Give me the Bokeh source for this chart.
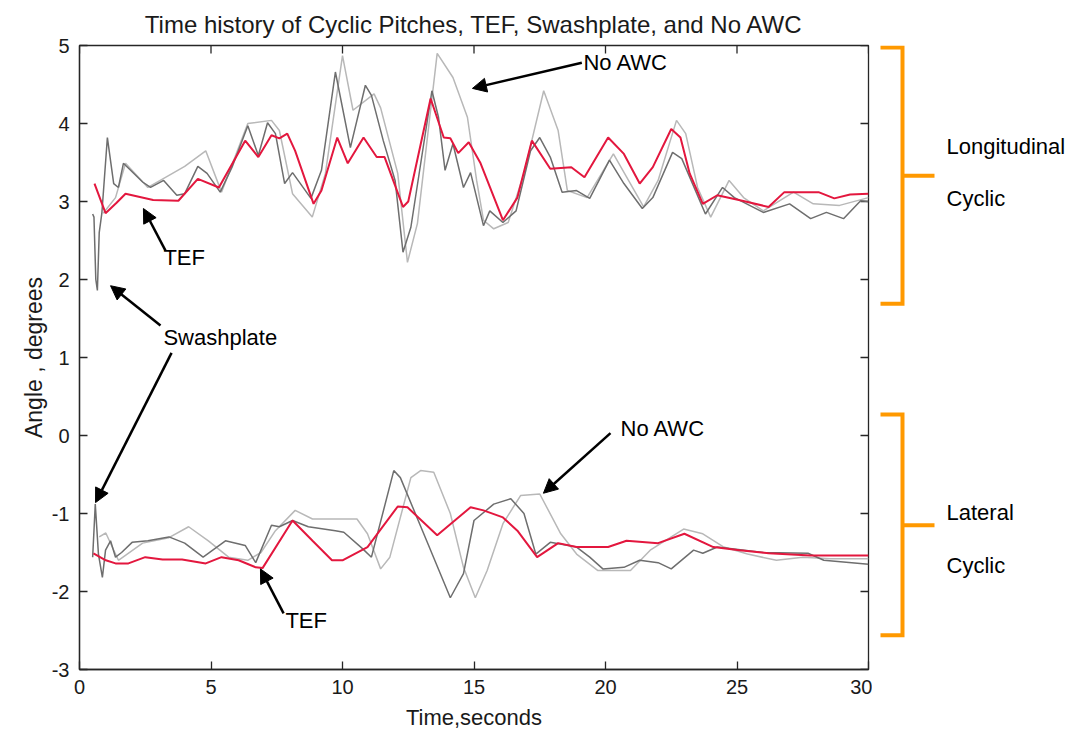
from bokeh.plotting import figure
from bokeh.models import Range1d, FixedTicker, Arrow, NormalHead, Label
from bokeh.layouts import row
from bokeh.embed import file_html
from bokeh.resources import INLINE

# ---------------- data ----------------
title_text = "Time history of Cyclic Pitches, TEF, Swashplate, and No AWC"
x_ticks = [0, 5, 10, 15, 20, 25, 30]
y_ticks = [-3, -2, -1, 0, 1, 2, 3, 4, 5]

# Longitudinal cyclic
tef_lon_t = [0.57, 0.99, 1.4, 1.75, 2.8, 3.76, 4.5, 5.3, 6.3, 6.8, 7.3, 7.6, 7.9, 8.2, 8.9, 9.2,
             9.8, 10.2, 10.8, 11.3, 11.6, 12.3, 12.5, 13.35, 13.85, 14.1, 14.4, 14.8, 15.25, 16.1,
             16.65, 17.2, 17.9, 18.7, 19.2, 20.1, 20.7, 21.3, 21.8, 22.5, 22.85, 23.2, 23.7, 24.25,
             25.2, 26.2, 26.8, 28.1, 28.7, 29.3, 30.0]
tef_lon_y = [3.23, 2.85, 2.98, 3.10, 3.02, 3.01, 3.29, 3.18, 3.78, 3.57, 3.85, 3.81, 3.87, 3.65, 2.97, 3.14,
             3.82, 3.49, 3.82, 3.57, 3.57, 2.93, 3.00, 4.32, 3.82, 3.81, 3.62, 3.76, 3.49, 2.76,
             3.05, 3.78, 3.42, 3.44, 3.31, 3.82, 3.61, 3.23, 3.44, 3.93, 3.82, 3.36, 2.97, 3.08,
             3.01, 2.93, 3.12, 3.12, 3.04, 3.09, 3.10]

swash_lon_t = [0.5, 0.55, 0.62, 0.68, 0.75, 0.85, 1.06, 1.3, 1.48, 1.67, 2.4, 2.7, 3.2, 3.7, 4.0, 4.5,
               4.85, 5.35, 5.8, 6.4, 6.8, 7.15, 7.45, 7.8, 8.1, 8.8, 9.2, 9.73, 10.3, 10.87, 11.1,
               11.55, 12.0, 12.3, 12.6, 13.4, 13.65, 13.9, 14.2, 14.6, 14.87, 15.36, 15.6, 16.1, 16.6,
               17.15, 17.5, 17.9, 18.35, 18.9, 19.4, 20.15, 20.7, 21.4, 21.8, 22.55, 22.9, 23.8,
               24.45, 24.9, 26.0, 27.0, 27.8, 28.4, 29.05, 29.7, 30.0]
swash_lon_y = [2.84, 2.8, 2.0, 1.86, 2.6, 2.85, 3.82, 3.23, 3.18, 3.49, 3.25, 3.18, 3.27, 3.08, 3.10, 3.45,
               3.36, 3.12, 3.44, 3.97, 3.59, 4.01, 3.87, 3.23, 3.37, 3.04, 3.40, 4.66, 3.69, 4.49, 4.36,
               3.78, 3.27, 2.35, 2.67, 4.42, 4.08, 3.40, 3.74, 3.18, 3.37, 2.69, 2.88, 2.73, 2.88,
               3.65, 3.82, 3.57, 3.12, 3.14, 3.04, 3.53, 3.23, 2.91, 3.05, 3.63, 3.55, 2.84,
               3.18, 3.05, 2.86, 2.97, 2.78, 2.86, 2.78, 3.01, 3.00]

noawc_lon_t = [0.9, 1.37, 1.75, 2.6, 3.27, 4.0, 4.8, 5.4, 6.4, 7.3, 7.6, 8.1, 8.85, 9.35, 10.0, 10.4,
               11.2, 11.45, 12.1, 12.47, 12.85, 13.6, 14.2, 14.75, 15.1, 15.36, 15.75, 16.3, 16.9,
               17.65, 18.2, 18.55, 19.3, 20.3, 21.45, 22.0, 22.7, 23.05, 23.5, 24.0, 24.7, 25.25,
               26.0, 27.15, 27.9, 28.9, 30.0]
noawc_lon_y = [2.85, 3.05, 3.49, 3.18, 3.31, 3.45, 3.65, 3.12, 4.00, 4.04, 3.91, 3.10, 2.80, 3.36, 4.87, 4.17,
               4.38, 4.20, 3.36, 2.22, 2.72, 4.90, 4.59, 4.08, 3.27, 2.76, 2.65, 2.73, 3.36,
               4.42, 3.91, 3.14, 3.05, 3.61, 2.93, 3.27, 4.04, 3.87, 3.18, 2.80, 3.27, 3.05,
               2.88, 3.12, 2.97, 2.95, 3.05]

# Lateral cyclic
tef_lat_t = [0.53, 1.0, 1.37, 1.86, 2.5, 3.16, 3.9, 4.8, 5.4, 6.05, 6.7, 6.96, 8.1, 8.86, 9.6, 10.0,
             10.95, 12.1, 12.47, 13.6, 14.87, 15.36, 16.1, 16.65, 17.4, 18.2, 18.9, 20.1, 20.8, 22.0,
             23.0, 24.1, 25.1, 26.2, 27.8, 30.0]
tef_lat_y = [-1.51, -1.60, -1.64, -1.64, -1.56, -1.59, -1.59, -1.64, -1.56, -1.60, -1.69, -1.70, -1.09, -1.35,
             -1.60, -1.60, -1.43, -0.91, -0.92, -1.28, -0.92, -0.96, -1.05, -1.22, -1.56, -1.38, -1.43,
             -1.43, -1.35, -1.38, -1.26, -1.43, -1.47, -1.51, -1.54, -1.54]

swash_lat_t = [0.5, 0.6, 0.72, 0.87, 0.99, 1.18, 1.37, 1.6, 2.0, 2.6, 3.4, 4.0, 4.7, 5.55, 6.3, 6.7,
               7.3, 7.6, 8.1, 8.7, 9.73, 10.05, 10.76, 11.1, 11.95, 12.2, 13.2, 14.1, 14.6, 15.0,
               15.75, 16.4, 16.9, 17.35, 17.9, 18.9, 19.4, 19.9, 20.7, 21.3, 22.0, 22.5, 23.35, 23.7,
               24.25, 26.0, 27.7, 28.3, 30.0]
swash_lat_y = [-1.56, -0.88, -1.52, -1.82, -1.47, -1.35, -1.56, -1.50, -1.37, -1.35, -1.30, -1.38, -1.56,
               -1.35, -1.41, -1.63, -1.15, -1.17, -1.09, -1.17, -1.22, -1.24, -1.45, -1.56, -0.45,
               -0.54, -1.35, -2.08, -1.77, -1.09, -0.88, -0.81, -1.00, -1.52, -1.37, -1.43, -1.56,
               -1.71, -1.69, -1.60, -1.63, -1.71, -1.47, -1.51, -1.43, -1.50, -1.51, -1.60, -1.65]

noawc_lat_t = [0.75, 1.0, 1.48, 2.4, 3.4, 4.15, 4.9, 5.67, 6.4, 6.9, 7.45, 8.2, 8.86, 10.55, 10.95,
               11.45, 11.8, 12.6, 12.97, 13.47, 14.1, 14.6, 15.05, 15.5, 16.1, 16.77, 17.5, 18.3,
               18.9, 19.7, 20.95, 21.7, 22.97, 23.7, 24.5, 25.4, 26.5, 27.5, 28.55, 30.0]
noawc_lat_y = [-1.30, -1.25, -1.60, -1.38, -1.31, -1.17, -1.35, -1.56, -1.60, -1.50, -1.22, -0.96, -1.07,
               -1.07, -1.26, -1.71, -1.56, -0.54, -0.45, -0.47, -1.00, -1.69, -2.08, -1.73, -1.13,
               -0.77, -0.75, -1.26, -1.52, -1.73, -1.73, -1.47, -1.20, -1.26, -1.43, -1.52, -1.60,
               -1.56, -1.58, -1.58]

# annotation texts (data coords of left/middle) and arrows (start -> end)
note_texts = ["No AWC", "TEF", "Swashplate", "No AWC", "TEF"]
note_x = [19.16, 3.19, 3.19, 20.57, 7.83]
note_y = [4.78, 2.28, 1.26, 0.09, -2.37]
arrow_x0 = [19.1, 3.27, 3.08, 3.5, 20.19, 7.76]
arrow_y0 = [4.78, 2.37, 1.41, 1.06, 0.03, -2.28]
arrow_x1 = [14.94, 2.43, 1.18, 0.61, 17.64, 6.88]
arrow_y1 = [4.45, 2.91, 1.92, -0.86, -0.74, -1.71]

# brackets: (top, bottom, middle) in angle units, and their labels
bracket_groups = [(4.975, 1.69, 3.33), (0.27, -2.56, -1.15)]
group_labels = [("Longitudinal", 3.71), ("Cyclic", 3.04), ("Lateral", -0.99), ("Cyclic", -1.67)]

# ---------------- styling ----------------
FONT = "Liberation Sans"
AX = "#262626"
TXT = "#1a1a1a"
RED = "#E3173E"
DARK = "#6E6E6E"
LIGHT = "#B8B8B8"
ORANGE = "#FF9900"
TICK_PX = 8
FW, FH = 789, 624

p = figure(frame_width=FW, frame_height=FH, x_range=Range1d(0, 30), y_range=Range1d(-3, 5),
           min_border_left=79, min_border_right=4, min_border_top=45, min_border_bottom=67,
           output_backend="svg", toolbar_location=None,
           background_fill_color="white", border_fill_color="white")
p.title.text = title_text
p.title.align = "center"
p.title.text_font = FONT
p.title.text_font_size = "24px"
p.title.text_font_style = "normal"
p.title.text_color = TXT
p.title.standoff = 15
p.grid.visible = False
p.outline_line_color = AX
p.outline_line_width = 1.3

for ax in (p.xaxis[0], p.yaxis[0]):
    ax.major_tick_in = TICK_PX
    ax.major_tick_out = 0
    ax.minor_tick_line_color = None
    ax.axis_line_color = AX
    ax.axis_line_width = 1.3
    ax.major_tick_line_color = AX
    ax.major_tick_line_width = 1.3
    ax.major_label_text_font = FONT
    ax.major_label_text_font_size = "20px"
    ax.major_label_text_color = TXT
    ax.axis_label_text_font = FONT
    ax.axis_label_text_font_size = "22px"
    ax.axis_label_text_font_style = "normal"
    ax.axis_label_text_color = TXT

p.xaxis.ticker = FixedTicker(ticks=x_ticks)
p.yaxis.ticker = FixedTicker(ticks=y_ticks)
p.yaxis.major_label_overrides = {t: str(t) for t in y_ticks}
p.xaxis.major_label_overrides = {t: str(t) for t in x_ticks}
p.xaxis.axis_label = "Time,seconds"
p.yaxis.axis_label = "Angle , degrees"
p.yaxis.axis_label_text_font_size = "23px"
p.xaxis.major_label_standoff = 10
p.yaxis.major_label_standoff = 10
p.xaxis.axis_label_standoff = 8
p.yaxis.axis_label_standoff = 2

# inward ticks on top and right edges (box style)
dx = TICK_PX * 30.0 / FW
dy = TICK_PX * 8.0 / FH
p.segment(x0=[30] * len(y_ticks), y0=y_ticks, x1=[30 - dx] * len(y_ticks), y1=y_ticks,
          line_color=AX, line_width=1.3)
p.segment(x0=x_ticks, y0=[5] * len(x_ticks), x1=x_ticks, y1=[5 - dy] * len(x_ticks),
          line_color=AX, line_width=1.3)

# series: No AWC (light), Swashplate (dark), TEF (red)
p.line(noawc_lon_t, noawc_lon_y, line_color=LIGHT, line_width=1.5)
p.line(noawc_lat_t, noawc_lat_y, line_color=LIGHT, line_width=1.5)
p.line(swash_lon_t, swash_lon_y, line_color=DARK, line_width=1.5)
p.line(swash_lat_t, swash_lat_y, line_color=DARK, line_width=1.5)
p.line(tef_lon_t, tef_lon_y, line_color=RED, line_width=2)
p.line(tef_lat_t, tef_lat_y, line_color=RED, line_width=2)

for x0, y0, x1, y1 in zip(arrow_x0, arrow_y0, arrow_x1, arrow_y1):
    p.add_layout(Arrow(end=NormalHead(size=14, fill_color="black", line_color="black", line_width=1),
                       x_start=x0, y_start=y0, x_end=x1, y_end=y1,
                       line_color="black", line_width=2.5))

for txt, x, y in zip(note_texts, note_x, note_y):
    p.add_layout(Label(x=x, y=y, text=txt, text_font=FONT, text_font_size="22px",
                       text_baseline="middle", text_align="left", text_color="black"))

# right-hand panel with orange brackets (same vertical scale as the main plot)
q = figure(frame_width=203, frame_height=FH, x_range=Range1d(0, 203), y_range=Range1d(-3, 5),
           min_border_left=0, min_border_right=0, min_border_top=45, min_border_bottom=67,
           x_axis_location=None, y_axis_location=None,
           output_backend="svg", toolbar_location=None,
           background_fill_color="white", border_fill_color="white")
q.grid.visible = False
q.outline_line_color = None

xs, ys = [], []
for top, bot, mid in bracket_groups:
    xs += [[8, 30, 30, 8], [30, 62]]
    ys += [[top, top, bot, bot], [mid, mid]]
q.multi_line(xs=xs, ys=ys, line_color=ORANGE, line_width=4, line_join="miter")

for txt, y in group_labels:
    q.add_layout(Label(x=74, y=y, text=txt, text_font=FONT, text_font_size="22px",
                       text_baseline="middle", text_align="left", text_color="black"))

layout = row(p, q)
open("out.html", "w").write(file_html(layout, INLINE))
